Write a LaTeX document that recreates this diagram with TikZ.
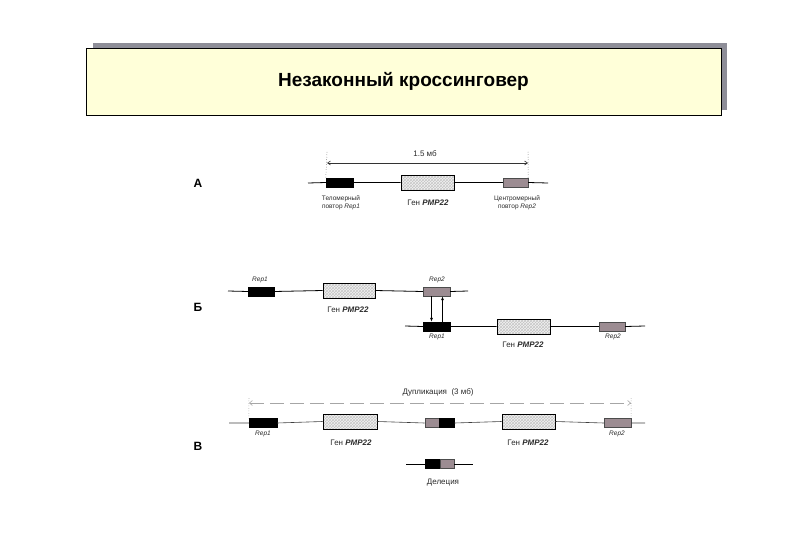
\documentclass[tikz,border=0pt]{standalone}
\usepackage{fontspec}
\setmainfont{Liberation Sans}
\usetikzlibrary{patterns,arrows.meta}
\definecolor{titlebg}{HTML}{FFFFD9}
\definecolor{shadowc}{HTML}{8E8E98}
\definecolor{repgray}{HTML}{9C8C92}
\definecolor{txt}{HTML}{2A2A2A}
\tikzset{
  chr/.style={draw=black, line width=0.8pt},
  chrthin/.style={draw=black!75, line width=0.6pt},
  blk/.style={draw=black, fill=black, inner sep=0pt, minimum height=9pt},
  rgr/.style={draw=black!70, fill=repgray, inner sep=0pt, minimum height=9pt},
  gene/.style={draw=black, line width=0.7pt, inner sep=0pt, minimum height=15pt,
     preaction={fill=gray!10}, pattern=crosshatch, pattern color=gray!45},
  lbl/.style={font=\fontsize{6.5}{7.5}\selectfont, text=txt, inner sep=0pt, align=center},
  ilbl/.style={font=\itshape\fontsize{6.5}{7.5}\selectfont, text=txt, inner sep=0pt},
  glbl/.style={font=\fontsize{8}{9}\selectfont, text=txt, inner sep=0pt},
  sec/.style={font=\bfseries\fontsize{12}{13}\selectfont, inner sep=0pt},
}
\begin{document}
\begin{tikzpicture}[x=1pt,y=-1pt]
\useasboundingbox (0,0) rectangle (810,540);
% title
\fill[shadowc] (93,43) rectangle (727,110);
\node[draw=black, line width=0.6pt, fill=titlebg, minimum width=635pt, minimum height=67pt, inner sep=0pt,
      font=\bfseries\fontsize{19}{22}\selectfont] (title) at (403.5,81.5) {Незаконный кроссинговер};

% ---------- A ----------
\node[sec] (secA) at (198,183) {А};
\coordinate (aL) at (308,183);
\coordinate (aR) at (548,183);
\node[blk, minimum width=27pt] (a1) at (339.5,182.5) {};
\node[gene, minimum width=53pt] (ag) at (427.5,182.5) {};
\node[rgr, minimum width=25pt] (a2) at (515.5,182.5) {};
\draw[chr] (aL) -- (a1.west) (a1.east) -- (ag.west) (ag.east) -- (a2.west) (a2.east) -- (aR);
\coordinate (d1) at (327,163);
\coordinate (d2) at (528,163);
\draw[black!80, line width=0.5pt, dotted] (327,152) -- (a1.north west);
\draw[black!80, line width=0.5pt, dotted] (528,152) -- (a2.north east);
\draw[black!80, line width=0.6pt, {Straight Barb[length=3pt,width=4pt]}-{Straight Barb[length=3pt,width=4pt]}] (d1) -- (d2);
\node[glbl] (dimA) at (425,154) {1.5 мб};
\node[lbl] (la1) at (341,203) {Теломерный\\повтор \textit{Rep1}};
\node[glbl] (lag) at (428,203) {Ген \textbf{\textit{PMP22}}};
\node[lbl] (la2) at (517,203) {Центромерный\\повтор \textit{Rep2}};

% ---------- Б ----------
\node[sec] (secB) at (198,307) {Б};
\coordinate (bL) at (228,291);
\coordinate (bR) at (468,291);
\node[blk, minimum width=26pt] (b1) at (261,291.5) {};
\node[gene, minimum width=52pt] (bg) at (349,290.5) {};
\node[rgr, minimum width=27pt] (b2) at (436.5,291.5) {};
\draw[chr] (bL) -- (b1.west) (b1.east) -- (bg.west) (bg.east) -- (b2.west) (b2.east) -- (bR);
\node[ilbl] (lb1) at (260,280) {Rep1};
\node[ilbl] (lb2) at (437,280) {Rep2};
\node[glbl] (lbg) at (348,310) {Ген \textbf{\textit{PMP22}}};

\coordinate (cL) at (405,326);
\coordinate (cR) at (645,326);
\node[blk, minimum width=27pt] (c1) at (436.5,326.5) {};
\node[gene, minimum width=53pt] (cg) at (523.5,326.5) {};
\node[rgr, minimum width=26pt] (c2) at (612,326.5) {};
\draw[chr] (cL) -- (c1.west) (c1.east) -- (cg.west) (cg.east) -- (c2.west) (c2.east) -- (cR);
\node[ilbl] (lc1) at (437,337) {Rep1};
\node[glbl] (lcg) at (523,345) {Ген \textbf{\textit{PMP22}}};
\node[ilbl] (lc2) at (613,337) {Rep2};
\draw[black, line width=0.7pt, -{Latex[length=4pt,width=3pt]}] ([xshift=-5pt]b2.south) -- ([xshift=-5pt]c1.north);
\draw[black, line width=0.7pt, -{Latex[length=4pt,width=3pt]}] ([xshift=6pt]c1.north) -- ([xshift=6pt]b2.south);

% ---------- В ----------
\node[sec] (secC) at (198,446) {В};
\coordinate (eL) at (229,423);
\coordinate (eR) at (645,423);
\node[blk, minimum width=28pt] (e1) at (263,423) {};
\node[gene, minimum width=54pt] (eg1) at (350,421.5) {};
\node[rgr, minimum width=14pt, anchor=east] (em1) at (439,423) {};
\node[blk, minimum width=15pt, anchor=west] (em2) at (439,423) {};
\node[gene, minimum width=53pt] (eg2) at (528.5,421.5) {};
\node[rgr, minimum width=27pt] (e2) at (617.5,423) {};
\draw[chrthin] (eL) -- (e1.west) (e1.east) -- (eg1.west) (eg1.east) -- (em1.west) (em2.east) -- (eg2.west) (eg2.east) -- (e2.west) (e2.east) -- (eR);
\node[ilbl] (le1) at (263,434) {Rep1};
\node[glbl] (leg1) at (351,443) {Ген \textbf{\textit{PMP22}}};
\node[glbl] (leg2) at (528,443) {Ген \textbf{\textit{PMP22}}};
\node[ilbl] (le2) at (617,434) {Rep2};
\coordinate (f1) at (249,403);
\coordinate (f2) at (631,403);
\draw[black!60, line width=0.5pt, dotted] (249,398) -- (e1.north west);
\draw[black!60, line width=0.5pt, dotted] (631,398) -- (e2.north east);
\draw[black!35, line width=0.6pt, dash pattern=on 14pt off 6pt, {Straight Barb[length=3pt,width=5pt]}-{Straight Barb[length=3pt,width=5pt]}] (f1) -- (f2);
\node[glbl] (ldup) at (438,392) {Дупликация~ (3 мб)};

\coordinate (gL) at (406,464);
\coordinate (gR) at (473,464);
\node[blk, minimum width=15pt, anchor=east] (g1) at (440,464) {};
\node[rgr, minimum width=14pt, anchor=west] (g2) at (440,464) {};
\draw[chr] (gL) -- (g1.west) (g2.east) -- (gR);
\node[glbl] (ldel) at (443,483) {Делеция};
\end{tikzpicture}
\end{document}
